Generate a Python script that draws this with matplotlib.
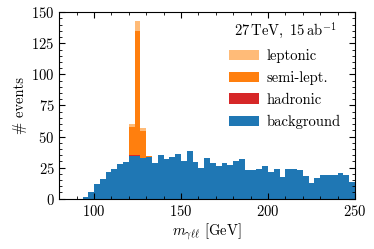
import matplotlib
matplotlib.use('Agg')
import matplotlib.pyplot as plt
import numpy as np

plt.rcParams['font.family'] = 'serif'
plt.rcParams['font.serif'] = ['cmr10']
plt.rcParams['mathtext.fontset'] = 'cm'
plt.rcParams['axes.formatter.use_mathtext'] = True
plt.rcParams['font.size'] = 10.5

# 51 bins of 10/3 GeV from 80 to 250
edges = np.linspace(80, 250, 52)
centers = 0.5 * (edges[:-1] + edges[1:])

background = [0, 0, 0, 0, 1.5, 5.6, 11.6, 15.7, 21.3, 24.2, 28.2, 29.7, 34.6, 34.6,
              32.4, 33.9, 29.0, 35.2, 32.2, 33.8, 36.2, 30.6, 38.1, 29.4, 24.5, 33.0,
              28.4, 26.3, 28.4, 26.8, 30.1, 31.7, 23.1, 23.4, 24.1, 26.3, 21.2, 23.6,
              17.5, 23.6, 23.5, 23.1, 18.2, 12.9, 16.9, 19.1, 19.1, 18.8, 20.7, 18.8,
              13.7]
hadronic = np.zeros(51)
semilept = np.zeros(51)
leptonic = np.zeros(51)
hadronic[12:15] = [0.3, 0.8, 0.3]
semilept[12:16] = [23.0, 99.7, 21.7, 0.6]
leptonic[12:16] = [2.1, 8.1, 2.4, 0.2]

fig = plt.figure(figsize=(3.74, 2.49), dpi=100)
ax = fig.add_axes([0.1586, 0.202, 0.7906, 0.749])

ax.hist([centers] * 4, bins=edges,
        weights=[background, hadronic, semilept, leptonic],
        stacked=True, histtype='bar', rwidth=1.0,
        color=['#1f77b4', '#d62728', '#ff7f0e', '#ffbb78'],
        label=['background', 'hadronic', 'semi-lept.', 'leptonic'])

ax.set_xlim(80, 250)
ax.set_ylim(0, 150)
ax.set_xticks([100, 150, 200, 250])
ax.set_xticks(np.arange(80, 251, 10), minor=True)
ax.set_yticks(np.arange(0, 151, 25))
ax.set_yticks(np.arange(0, 151, 5), minor=True)
ax.tick_params(which='both', direction='in', top=True, right=True)
ax.tick_params(which='major', length=4)
ax.tick_params(which='minor', length=2)
ax.set_xlabel(r'$m_{\gamma\ell\ell}$ [GeV]', labelpad=2)
ax.set_ylabel(r'# events', labelpad=3)

h, l = ax.get_legend_handles_labels()
ax.legend(h[::-1], l[::-1], loc='upper right', frameon=False,
          bbox_to_anchor=(0.972, 0.985), borderaxespad=0,
          title=r'$\mathrm{27\,TeV},\ 15\,\mathrm{ab}^{-1}$',
          handlelength=2.1, handletextpad=0.5, labelspacing=0.55)

plt.savefig('out.png', dpi=100)
